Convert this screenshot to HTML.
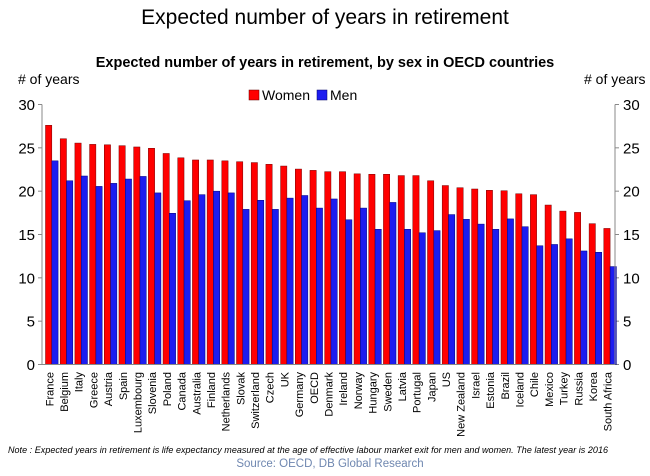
<!DOCTYPE html>
<html><head><meta charset="utf-8"><style>
body{margin:0;background:#fff;width:650px;height:471px;overflow:hidden;font-family:"Liberation Sans",sans-serif}
</style></head><body>
<svg width="650" height="471" xmlns="http://www.w3.org/2000/svg" font-family="Liberation Sans, sans-serif">
<text x="325" y="24" text-anchor="middle" font-size="21">Expected number of years in retirement</text>
<text x="325" y="67" text-anchor="middle" font-size="14.5" font-weight="bold">Expected number of years in retirement, by sex in OECD countries</text>
<text x="18" y="84" font-size="14"># of years</text>
<text x="584" y="84" font-size="14"># of years</text>
<g>
<rect x="249" y="90" width="10" height="10" fill="#f00" stroke="#600" stroke-width="0.5"/>
<text x="262" y="100" font-size="14">Women</text>
<rect x="317" y="90" width="10" height="10" fill="#1c1cf0" stroke="#006" stroke-width="0.5"/>
<text x="330" y="100" font-size="14">Men</text>
</g>
<g id="plot"></g>
<text x="8" y="453" font-size="9" font-style="italic" textLength="600">Note : Expected years in retirement is life expectancy measured at the age of effective labour market exit for men and women.  The latest year is 2016</text>
<text x="330" y="467" text-anchor="middle" font-size="11.5" fill="#6f87b0">Source: OECD, DB Global Research</text>
</svg>
<script>
const categories=["France","Belgium","Italy","Greece","Austria","Spain","Luxembourg","Slovenia","Poland","Canada","Australia","Finland","Netherlands","Slovak","Switzerland","Czech","UK","Germany","OECD","Denmark","Ireland","Norway","Hungary","Sweden","Latvia","Portugal","Japan","US","New Zealand","Israel","Estonia","Brazil","Iceland","Chile","Mexico","Turkey","Russia","Korea","South Africa"];
const women=[27.6,26.05,25.55,25.4,25.35,25.25,25.1,24.95,24.35,23.85,23.6,23.6,23.5,23.4,23.3,23.1,22.9,22.55,22.4,22.25,22.25,22.0,21.95,21.95,21.8,21.8,21.2,20.65,20.4,20.25,20.1,20.05,19.7,19.6,18.4,17.7,17.55,16.25,15.7];
const men=[23.5,21.2,21.75,20.55,20.9,21.4,21.7,19.8,17.45,18.9,19.6,20.0,19.8,17.9,18.95,17.9,19.2,19.5,18.05,19.1,16.7,18.05,15.6,18.7,15.6,15.2,15.45,17.3,16.75,16.2,15.6,16.8,15.9,13.7,13.85,14.5,13.1,12.95,11.3];
const ticks=[0,5,10,15,20,25,30];
const NS="http://www.w3.org/2000/svg";
const X0=42,X1=615,Y0=364.5,YT=104.5,YMAX=30;
const y=v=>Y0-(v/YMAX)*(Y0-YT);
const step=(X1-X0)/categories.length;
const x=i=>X0+i*step;
const g=document.getElementById('plot');
function mk(t,a){const e=document.createElementNS(NS,t);for(const k in a)e.setAttribute(k,a[k]);g.appendChild(e);return e;}
ticks.forEach(t=>{
 const l=mk('text',{x:35,y:y(t)+5.5,'text-anchor':'end','font-size':15});l.textContent=t;
 
 
 const r=mk('text',{x:623,y:y(t)+5.5,'font-size':15});r.textContent=t;
 
 
 const a=mk('line',{x1:X0-4,x2:X0,y1:y(t),y2:y(t),stroke:'#888'});
 
 
 const b=mk('line',{x1:X1,x2:X1+4,y1:y(t),y2:y(t),stroke:'#888'});
 
 
});
categories.forEach((c,i)=>{
 const bx=x(i)+3.5, bw=6.3;
 const r=mk('rect',{x:bx,y:y(women[i]),width:bw,height:Y0-y(women[i]),fill:'#f00',stroke:'#700','stroke-width':0.5});
 
 
 const m=mk('rect',{x:bx+bw,y:y(men[i]),width:bw,height:Y0-y(men[i]),fill:'#1c1cf0',stroke:'#007','stroke-width':0.5});
 
 
 const cx=x(i)+step/2+4;
 const t=mk('text',{x:cx,y:372,'font-size':11,'text-anchor':'end',transform:`rotate(-90 ${cx} 372)`});
 t.textContent=c;
 
 
});
const la=mk('line',{x1:X0,x2:X0,y1:YT,y2:Y0,stroke:'#888'});


const ra=mk('line',{x1:X1,x2:X1,y1:YT,y2:Y0,stroke:'#888'});


const xa=mk('line',{x1:X0,x2:X1,y1:Y0,y2:Y0,stroke:'#888'});


</script>
</body></html>
